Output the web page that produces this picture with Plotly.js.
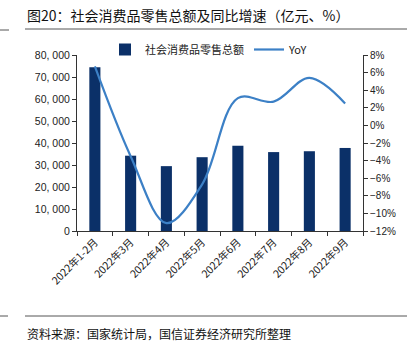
<!DOCTYPE html>
<html><head><meta charset="utf-8">
<script src="https://cdn.plot.ly/plotly-3.0.1.min.js"></script>
<style>html,body{margin:0;padding:0;background:#fff;}#c{width:411px;height:353px;}</style>
</head><body><div id="c"></div>
<script>
const categories = ["2022年1-2月","2022年3月","2022年4月","2022年5月","2022年6月","2022年7月","2022年8月","2022年9月"];
const retailSales = [74426, 34233, 29483, 33547, 38742, 35870, 36258, 37745];
const yoy = [6.7, -3.5, -11.1, -6.7, 3.1, 2.7, 5.4, 2.5];
const leftTickVals = [0,10000,20000,30000,40000,50000,60000,70000,80000];
const leftTickText = ["0","10, 000","20, 000","30, 000","40, 000","50, 000","60, 000","70, 000","80, 000"];

const cjk = '"Noto Sans CJK SC", "Liberation Sans", sans-serif';
const num = '"Liberation Sans", Arial, sans-serif';

const traces = [
  {type:'bar', x:categories, y:retailSales, name:'社会消费品零售总额',
   marker:{color:'#0b3068'}, width:0.31, yaxis:'y'},
  {type:'scatter', mode:'lines', x:categories, y:yoy, name:'YoY', yaxis:'y2',
   line:{color:'#3c80c6', width:2.2, shape:'spline', smoothing:1}}
];

const px = (p)=> (p-77)/286;
const py = (p)=> (231-p)/176;

const layout = {
  width:411, height:353,
  margin:{l:77, r:48, t:55, b:122},
  paper_bgcolor:'#fff', plot_bgcolor:'#fff',
  showlegend:true,
  legend:{orientation:'h', x:px(105), xanchor:'left', y:py(35), yanchor:'top',
          font:{family:cjk, size:11, color:'#222'}, bgcolor:'rgba(0,0,0,0)',
          itemwidth:30, tracegroupgap:0},
  bargap:0.69,
  xaxis:{type:'category', range:[-0.5,7.5], showline:true, linecolor:'#333', linewidth:1,
         ticks:'outside', tickson:'boundaries', ticklen:4, tickcolor:'#333',
         tickangle:-45, tickfont:{family:cjk, size:10.5, color:'#222'}, showgrid:false, zeroline:false},
  yaxis:{range:[0,80000], tickvals:leftTickVals, ticktext:leftTickText, showline:true,
         linecolor:'#333', linewidth:1, ticks:'outside', ticklen:4, tickcolor:'#333',
         tickfont:{family:num, size:10.5, color:'#222'}, showgrid:false, zeroline:false},
  yaxis2:{range:[-12,8], dtick:2, tick0:0, ticksuffix:'%', overlaying:'y', side:'right',
          showline:true, linecolor:'#333', linewidth:1, ticks:'outside', ticklen:4, tickcolor:'#333',
          tickfont:{family:num, size:10, color:'#222'}, showgrid:false, zeroline:false},
  shapes:[
    {type:'line', xref:'paper', yref:'paper', x0:px(25), x1:px(407), y0:py(29), y1:py(29), line:{color:'#555', width:1}},
    {type:'line', xref:'paper', yref:'paper', x0:px(0), x1:px(9), y0:py(30), y1:py(30), line:{color:'#555', width:1}},
    {type:'line', xref:'paper', yref:'paper', x0:px(25), x1:px(407), y0:py(316), y1:py(316), line:{color:'#555', width:1}},
    {type:'line', xref:'paper', yref:'paper', x0:px(0), x1:px(8), y0:py(316), y1:py(316), line:{color:'#555', width:1}}
  ],
  annotations:[
    {text:'图20：社会消费品零售总额及同比增速（亿元、%）', xref:'paper', yref:'paper',
     x:px(25), y:py(15), xanchor:'left', yanchor:'middle', showarrow:false,
     font:{family:cjk, size:14, color:'#111'}},
    {text:'资料来源：国家统计局，国信证券经济研究所整理', xref:'paper', yref:'paper',
     x:px(25), y:py(333), xanchor:'left', yanchor:'middle', showarrow:false,
     font:{family:cjk, size:12, color:'#111'}}
  ]
};
Plotly.newPlot('c', traces, layout, {displayModeBar:false, staticPlot:true});
</script></body></html>
